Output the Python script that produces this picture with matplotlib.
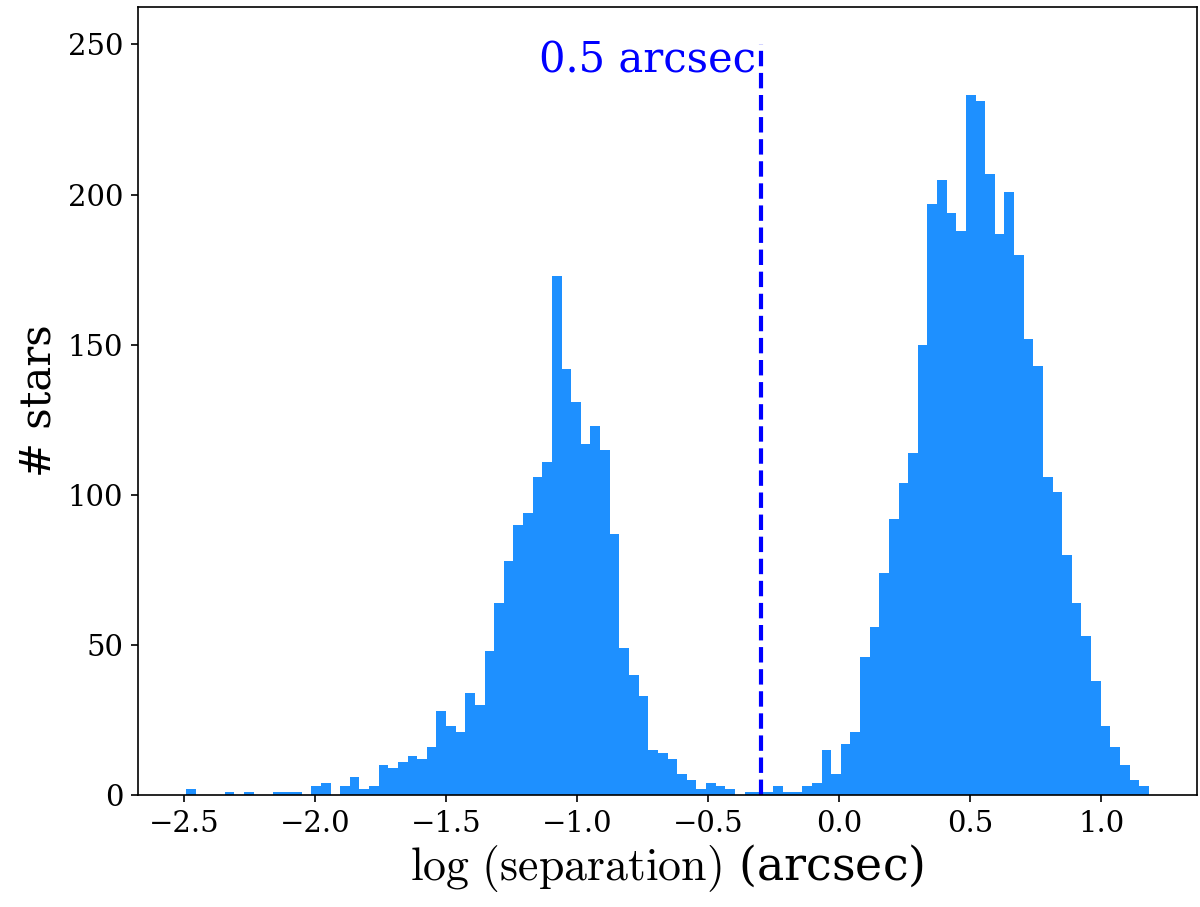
import numpy as np
import matplotlib
matplotlib.use('Agg')
import matplotlib.pyplot as plt

# histogram of log10 separation, 100 equal bins
bin_lo = -2.4935
bin_hi = 1.181
counts = [
    2, 0, 0, 0, 1, 0, 1, 0, 0, 1,
    1, 1, 0, 3, 4, 0, 3, 6, 2, 3,
    10, 9, 11, 13, 12, 16, 28, 23, 21, 34,
    30, 48, 64, 78, 90, 94, 106, 111, 173, 142,
    131, 117, 123, 115, 87, 49, 40, 33, 15, 14,
    12, 7, 5, 2, 4, 3, 2, 0, 1, 1,
    1, 3, 1, 1, 3, 4, 15, 7, 17, 21,
    46, 56, 74, 92, 104, 114, 150, 197, 205, 194,
    188, 233, 231, 207, 187, 201, 180, 152, 143, 106,
    101, 80, 64, 53, 38, 23, 16, 10, 5, 3,
]
cut_arcsec = 0.5
cut_label = '0.5 arcsec'

plt.rcParams['font.family'] = 'DejaVu Serif'
plt.rcParams['mathtext.fontset'] = 'cm'

edges = np.linspace(bin_lo, bin_hi, len(counts) + 1)
centers = 0.5 * (edges[:-1] + edges[1:])

fig = plt.figure(figsize=(8, 907 / 150), dpi=150)
ax = fig.add_axes([0.115, 0.123, 0.8825, 0.8695])

ax.hist(centers, bins=edges, weights=counts, color='dodgerblue')

# separation cut
xcut = np.log10(cut_arcsec)
ax.vlines(xcut, 0, 250, colors='b', linestyles='--', linewidth=2)
ax.text(xcut - 0.019, 240.5, cut_label, color='b', fontsize=20,
        ha='right', va='baseline')

ax.set_xlabel(r'$\log\,(\rm separation)$ (arcsec)', fontsize=22, labelpad=2)
ax.set_ylabel('# stars', fontsize=20)
ax.tick_params(labelsize=14)

fig.savefig('out.png', dpi=150)
